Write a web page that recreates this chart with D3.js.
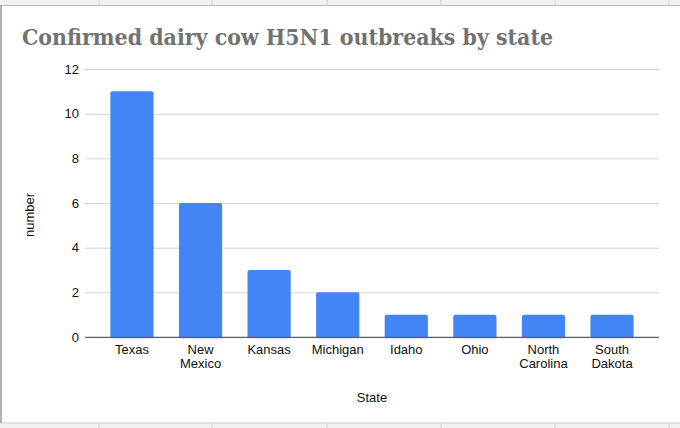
<!DOCTYPE html>
<html>
<head>
	<title></title>
	<style>
		body { margin: 0; background: #fff; }
		text { font-family: "Liberation Sans", Arial, sans-serif; }
	</style>
</head>
<body>
	<svg id="container" height="428" width="680"></svg>
</body>
<script src="https://d3js.org/d3.v7.min.js"></script>
<script>
	// data
	let states = ["Texas", "New Mexico", "Kansas", "Michigan", "Idaho", "Ohio", "North Carolina", "South Dakota"]
	let outbreaks = [11, 6, 3, 2, 1, 1, 1, 1]
	let yTicks = [0, 2, 4, 6, 8, 10, 12]
	let sheetCols = [99, 212, 327, 441, 555, 669] // spreadsheet column lines behind the chart

	let svg = d3.select("#container")

	// spreadsheet strips at top and bottom
	svg.append("rect").attr("x", 0).attr("y", 0).attr("width", 680).attr("height", 5).attr("fill", "#f1f1f1")
	svg.append("rect").attr("x", 0).attr("y", 423).attr("width", 680).attr("height", 5).attr("fill", "#f1f1f1")
	svg.selectAll(".col").data(sheetCols).enter().append("g").each(function(d) {
		d3.select(this).append("line").attr("x1", d).attr("x2", d).attr("y1", 0).attr("y2", 5).attr("stroke", "#d0d0d0")
		d3.select(this).append("line").attr("x1", d).attr("x2", d).attr("y1", 423).attr("y2", 428).attr("stroke", "#d0d0d0")
	})
	svg.append("line").attr("x1", 0).attr("x2", 680).attr("y1", 5.5).attr("y2", 5.5).attr("stroke", "#bdbdbd")
	svg.append("line").attr("x1", 0).attr("x2", 680).attr("y1", 423).attr("y2", 423).attr("stroke", "#cfcfcf")
	svg.append("line").attr("x1", 1).attr("x2", 1).attr("y1", 5).attr("y2", 423).attr("stroke", "#9a9a9a").attr("stroke-width", 1.5)

	svg.append("text")
		.attr("x", 22).attr("y", 45)
		.attr("fill", "#727272")
		.style("font-family", "'DejaVu Serif', serif")
		.style("font-weight", "bold")
		.style("font-size", "23px")
		.attr("textLength", 531)
		.attr("lengthAdjust", "spacingAndGlyphs")
		.text("Confirmed dairy cow H5N1 outbreaks by state")

	let plotLeft = 85, plotRight = 659, plotTop = 69, plotBottom = 337

	let x = d3.scaleBand()
		.domain(states)
		.range([plotLeft, plotRight])
		.padding(0.37)

	let y = d3.scaleLinear()
		.domain([0, 12])
		.range([plotBottom, plotTop])

	// gridlines + y labels
	let yAxis = svg.append("g")
		.attr("transform", `translate(${plotLeft},0)`)
		.call(d3.axisLeft(y).tickValues(yTicks).tickSize(-(plotRight - plotLeft)).tickPadding(6).tickFormat(d3.format("d")))
	yAxis.select(".domain").remove()
	yAxis.selectAll(".tick line").attr("stroke", "#d4d4d4")
	yAxis.selectAll(".tick text").attr("fill", "#111").style("font-size", "13px").style("font-family", "'Liberation Sans', Arial, sans-serif")

	svg.selectAll(".bar")
		.data(outbreaks)
		.enter().append("rect")
		.attr("class", "bar")
		.attr("x", (d, i) => x(states[i]))
		.attr("y", d => y(d))
		.attr("width", x.bandwidth())
		.attr("height", d => y(0) - y(d) + 2)
		.attr("rx", 2)
		.attr("fill", "#4285f4")

	// baseline
	svg.append("line").attr("x1", plotLeft).attr("x2", plotRight).attr("y1", plotBottom + 0.5).attr("y2", plotBottom + 0.5).attr("stroke", "#5f5f5f").attr("stroke-width", 1.3)
	svg.append("rect").attr("x", plotLeft).attr("y", plotBottom + 1.2).attr("width", plotRight - plotLeft).attr("height", 4).attr("fill", "#fff")

	// x labels, split onto two lines
	let xAxis = svg.append("g")
		.attr("transform", `translate(0,${plotBottom})`)
		.call(d3.axisBottom(x).tickSize(0).tickPadding(0))
	xAxis.select(".domain").remove()
	xAxis.selectAll(".tick text")
		.attr("fill", "#111")
		.style("font-size", "13px")
		.style("font-family", "'Liberation Sans', Arial, sans-serif")
		.attr("y", 0).attr("dy", null)
		.each(function(d) {
			let t = d3.select(this).text("")
			d.split(" ").forEach((w, i) => {
				t.append("tspan").attr("x", 0).attr("y", 17 + i * 13.5).text(w)
			})
		})

	svg.append("text")
		.attr("x", (plotLeft + plotRight) / 2).attr("y", 402)
		.attr("text-anchor", "middle").attr("fill", "#111")
		.style("font-size", "13px")
		.text("State")

	svg.append("text")
		.attr("transform", "translate(34,215) rotate(-90)")
		.attr("text-anchor", "middle").attr("fill", "#111")
		.style("font-size", "13px")
		.text("number")
</script>
</html>
